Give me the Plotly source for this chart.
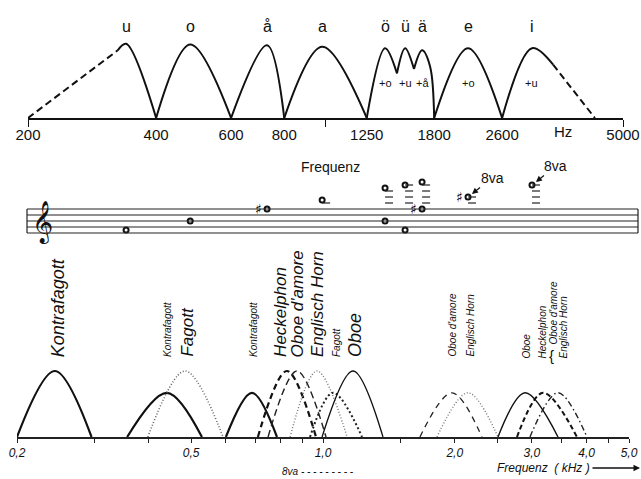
import math
import plotly.graph_objects as go

W, H = 641, 479
SANS = "Liberation Sans"

# ---------------- top panel: vowel formant regions ----------------
vowels = ["u", "o", "å", "a", "ö", "ü", "ä", "e", "i"]
vowel_peak_hz = [340, 481, 729, 982, 1380, 1538, 1686, 2162, 3056]
vowel_extra = ["", "", "", "", "+o", "+u", "+å", "+o", "+u"]

top_tick_hz = [200, 400, 600, 800, 1250, 1800, 2600, 5000]
top_tick_mark_hz = [200, 1000, 5000]

u_rise_hz = [200, 325]
u_rise_amp = [0.0, 0.94]
u_hz = [325, 340, 400]
u_amp = [0.94, 1.03, 0.0]
o_hz = [400, 481, 600]
o_amp = [0.0, 1.02, 0.0]
aa_hz = [600, 729, 800]
aa_amp = [0.0, 1.01, 0.0]
a_hz = [800, 982, 1250]
a_amp = [0.0, 0.99, 0.0]
oe_hz = [1250, 1380, 1472]
oe_amp = [0.0, 0.97, 0.62]
ue_hz = [1472, 1538, 1614]
ue_amp = [0.62, 0.97, 0.68]
ae_hz = [1614, 1686, 1760, 1800]
ae_amp = [0.68, 0.94, 0.72, 0.0]
e_hz = [1800, 2162, 2600]
e_amp = [0.0, 0.97, 0.0]
i_hz = [2600, 3056, 3426]
i_amp = [0.0, 0.97, 0.74]
i_fall_hz = [3426, 4295]
i_fall_amp = [0.74, 0.0]

# ---------------- middle panel: notes on the staff ----------------
staff_line_steps = [0, 2, 4, 6, 8]          # E4 G4 B4 D5 F5
note_vowel_index = [0, 1, 2, 3, 4, 4, 5, 5, 6, 6, 7, 8]
note_step = [1, 4, 8, 11, 15, 4, 16, 1, 17, 8, 12, 16]
note_sharp = [0, 0, 1, 0, 0, 0, 0, 0, 0, 1, 1, 0]
ottava_note_index = [10, 11]

# ---------------- bottom panel: instrument formant regions (kHz) ----------------
instr_name = ["Kontrafagott", "Kontrafagott", "Fagott", "Kontrafagott", "Heckelphon",
              "Oboe d'amore", "Englisch Horn", "Fagott", "Oboe", "Oboe d'amore",
              "Englisch Horn", "Oboe", "Heckelphon", "Oboe d'amore / Englisch Horn"]
instr_lo_khz = [0.200, 0.357, 0.398, 0.600, 0.710, 0.749, 0.841, 0.934, 0.995,
                1.665, 1.821, 2.510, 2.774, 2.970]
instr_peak_khz = [0.244, 0.440, 0.484, 0.688, 0.827, 0.872, 0.969, 1.054, 1.171,
                  1.971, 2.144, 2.894, 3.181, 3.442]
instr_hi_khz = [0.296, 0.529, 0.591, 0.785, 0.964, 1.016, 1.135, 1.228, 1.371,
                2.307, 2.510, 3.442, 3.804, 4.008]
instr_amp = [1.0, 0.67, 1.0, 0.67, 1.0, 1.0, 1.0, 0.67, 1.0, 0.67, 0.67, 0.67, 0.67, 0.67]

bottom_tick_khz = [0.2, 0.5, 1.0, 2.0, 3.0, 4.0, 5.0]
bottom_tick_text = ["0,2", "0,5", "1,0", "2,0", "3,0", "4,0", "5,0"]
bottom_minor_khz = [0.3, 0.4, 0.6, 0.7, 0.8, 0.9, 1.5, 2.5, 3.5, 4.5]

# line styles (colour, width, dash) per instrument curve
instr_style = [
    ("#111", 2.2, "solid"), ("#111", 2.2, "solid"), ("#666", 1.6, "1px,2px"),
    ("#111", 2.2, "solid"), ("#111", 2.2, "6px,4px"), ("#222", 1.4, "7px,4px"),
    ("#777", 1.4, "1px,2px"), ("#222", 2.0, "2px,2.5px"), ("#111", 1.3, "solid"),
    ("#222", 1.3, "6px,5px"), ("#777", 1.4, "1px,2px"), ("#111", 1.4, "solid"),
    ("#111", 2.0, "5px,3px"), ("#222", 1.4, "6px,3px,1.5px,3px"),
]

# labels above bottom curves: (text, curve index, font size, xshift px, yshift px)
instr_labels = [
    ("Kontrafagott", 0, 18, 3, 0),
    ("Kontrafagott", 1, 10, 0, 0),
    ("Fagott", 2, 17, 2, 0),
    ("Kontrafagott", 3, 10, 1, 0),
    ("Heckelphon", 4, 17, -7, 0),
    ("Oboe d'amore", 5, 17, 1, 0),
    ("Englisch Horn", 6, 17, 0, 0),
    ("Fagott", 7, 10, 3, 0),
    ("Oboe", 8, 18, 2, 0),
    ("Oboe d'amore", 9, 10, 0, 0),
    ("Englisch Horn", 10, 10, 2, 0),
    ("Oboe", 11, 10, 1, -2),
    ("Heckelphon", 12, 10, -1, -2),
    ("Oboe d'amore", 13, 10, -5, 12),
    ("Englisch Horn", 13, 10, 5, -2),
]

# ---------------- layout geometry ----------------
def py(v):
    return 1 - v / H

top_dom = [py(118), py(118 - 72 * 1.1)]
staff_dom = [py(245), py(161)]
bot_dom = [py(437), py(437 - 66 * 1.05)]

fig = go.Figure()

def add_line(x, y, xa, ya, color="#111", width=2.0, dash="solid"):
    fig.add_trace(go.Scatter(
        x=x, y=y, xaxis=xa, yaxis=ya, mode="lines",
        line=dict(color=color, width=width, dash=dash, shape="spline", smoothing=1.0),
        hoverinfo="skip", showlegend=False))

# top curves
add_line(u_rise_hz, u_rise_amp, "x", "y", dash="7px,4px", width=2.0)
for xs, ys in [(u_hz, u_amp), (o_hz, o_amp), (aa_hz, aa_amp), (a_hz, a_amp),
               (oe_hz, oe_amp), (ue_hz, ue_amp), (ae_hz, ae_amp), (e_hz, e_amp),
               (i_hz, i_amp)]:
    add_line(xs, ys, "x", "y", width=2.0)
add_line(i_fall_hz, i_fall_amp, "x", "y", dash="7px,4px", width=2.0)

annotations = []
for v, f, extra in zip(vowels, vowel_peak_hz, vowel_extra):
    annotations.append(dict(x=math.log10(f), y=py(27), xref="x", yref="paper", text=v,
                            xanchor="center", yanchor="middle", showarrow=False,
                            font=dict(family=SANS, size=16, color="#111")))
    if extra:
        annotations.append(dict(x=math.log10(f), y=0.49, xref="x", yref="y", text=extra,
                                xanchor="center", yanchor="middle", showarrow=False,
                                font=dict(family=SANS, size=11, color="#111")))
annotations.append(dict(x=563 / W, y=py(131), xref="paper", yref="paper", text="Hz",
                        xanchor="center", yanchor="middle", showarrow=False,
                        font=dict(family=SANS, size=15, color="#111")))
annotations.append(dict(x=330 / W, y=py(167), xref="paper", yref="paper", text="Frequenz",
                        xanchor="center", yanchor="middle", showarrow=False,
                        font=dict(family=SANS, size=14, color="#111")))

# staff
shapes = []
for s in staff_line_steps:
    shapes.append(dict(type="line", xref="paper", yref="y2", x0=27 / W, x1=638 / W,
                       y0=s, y1=s, line=dict(color="#222", width=1.2)))
for xe in (27, 638):
    shapes.append(dict(type="line", xref="paper", yref="y2", x0=xe / W, x1=xe / W,
                       y0=staff_line_steps[0], y1=staff_line_steps[-1],
                       line=dict(color="#222", width=1.2)))

note_x = [vowel_peak_hz[i] for i in note_vowel_index]
for xv, st, sh in zip(note_x, note_step, note_sharp):
    for ls in range(10, st + 1, 2):
        shapes.append(dict(type="line", xref="x2", yref="y2", xsizemode="pixel",
                           xanchor=xv, x0=-8, x1=8, y0=ls, y1=ls,
                           line=dict(color="#222", width=1.2)))
    if sh:
        annotations.append(dict(x=math.log10(xv), y=st, xref="x2", yref="y2", text="♯",
                                xshift=-9, showarrow=False, xanchor="center",
                                yanchor="middle",
                                font=dict(family="DejaVu Sans", size=14, color="#000",
                                          weight="bold")))

fig.add_trace(go.Scatter(
    x=note_x, y=note_step, xaxis="x2", yaxis="y2", mode="markers",
    marker=dict(symbol="circle", size=5, color="white", line=dict(color="#111", width=2.0)),
    hoverinfo="skip", showlegend=False))

annotations.append(dict(x=42 / W, y=3.5, xref="paper", yref="y2", text="𝄞",
                        xanchor="center", yanchor="middle", showarrow=False,
                        font=dict(family="DejaVu Sans", size=36, color="#111")))

for ni in ottava_note_index:
    annotations.append(dict(x=math.log10(note_x[ni]), y=note_step[ni], xref="x2", yref="y2",
                            text="8va", showarrow=True, arrowhead=2, arrowsize=1,
                            arrowwidth=1.2, arrowcolor="#111", ax=24, ay=-19, standoff=5,
                            font=dict(family=SANS, size=14, color="#111")))

# bottom curves
for lo, pk, hi, amp, (col, wd, ds) in zip(instr_lo_khz, instr_peak_khz, instr_hi_khz,
                                         instr_amp, instr_style):
    add_line([lo, pk, hi], [0, amp, 0], "x3", "y3", color=col, width=wd, dash=ds)

for text, idx, size, xs, ys in instr_labels:
    annotations.append(dict(x=math.log10(instr_peak_khz[idx]), y=py(359), xref="x3",
                            yref="paper", text=text, textangle=-90, xanchor="center",
                            yanchor="bottom", xshift=xs, yshift=ys, showarrow=False,
                            font=dict(family=SANS, size=size, color="#111", style="italic")))
annotations.append(dict(x=math.log10(instr_peak_khz[13]), y=py(355), xref="x3", yref="paper",
                        text="{", xshift=-7, showarrow=False, xanchor="center",
                        yanchor="middle", font=dict(family=SANS, size=15, color="#111")))

annotations.append(dict(x=318 / W, y=py(471), xref="paper", yref="paper",
                        text="8va - - - - - - - - -", showarrow=False,
                        xanchor="center", yanchor="middle",
                        font=dict(family=SANS, size=10, color="#111", style="italic")))
annotations.append(dict(x=543 / W, y=py(468), xref="paper", yref="paper",
                        text="Frequenz  ( kHz )", showarrow=False,
                        xanchor="center", yanchor="middle",
                        font=dict(family=SANS, size=12, color="#111", style="italic")))
annotations.append(dict(x=1.0, y=py(468), xref="paper", yref="paper", text="",
                        showarrow=True, arrowhead=2, arrowsize=1, arrowwidth=1.3,
                        arrowcolor="#111", ax=-50, ay=0))

fig.update_layout(
    width=W, height=H, margin=dict(l=0, r=0, t=0, b=0, pad=0),
    paper_bgcolor="white", plot_bgcolor="rgba(0,0,0,0)", showlegend=False,
    xaxis=dict(type="log", range=[math.log10(200), math.log10(5000)],
               domain=[28 / W, 623 / W], anchor="y", showline=True, linecolor="#111",
               linewidth=1.6, showgrid=False, zeroline=False, automargin=False,
               tickmode="array", tickvals=top_tick_hz, ticktext=[str(t) for t in top_tick_hz],
               ticks="outside", ticklen=2, tickcolor="rgba(0,0,0,0)",
               tickfont=dict(family=SANS, size=15, color="#111"),
               minor=dict(tickmode="array", tickvals=top_tick_mark_hz, ticks="outside",
                          ticklen=7, tickcolor="#111", tickwidth=1.4, showgrid=False)),
    yaxis=dict(domain=top_dom, range=[0, 1.1], visible=False, anchor="x", automargin=False),
    xaxis2=dict(type="log", matches="x", domain=[28 / W, 623 / W], anchor="y2",
                visible=False, automargin=False),
    yaxis2=dict(domain=staff_dom, range=[-4, 24], visible=False, anchor="x2", automargin=False),
    xaxis3=dict(type="log", range=[math.log10(0.2), math.log10(5.0)],
                domain=[17 / W, 629 / W], anchor="y3", showline=True, linecolor="#222",
                linewidth=1.6, showgrid=False, zeroline=False, automargin=False,
                tickmode="array", tickvals=bottom_tick_khz, ticktext=bottom_tick_text,
                ticks="outside", ticklen=4, tickcolor="#222", tickwidth=1.2,
                tickfont=dict(family=SANS, size=12, color="#111", style="italic"),
                minor=dict(tickmode="array", tickvals=bottom_minor_khz, ticks="outside",
                           ticklen=4, tickcolor="#222", tickwidth=1.2, showgrid=False)),
    yaxis3=dict(domain=bot_dom, range=[0, 1.05], visible=False, anchor="x3", automargin=False),
    annotations=annotations, shapes=shapes,
)

fig.write_html("out.html")
